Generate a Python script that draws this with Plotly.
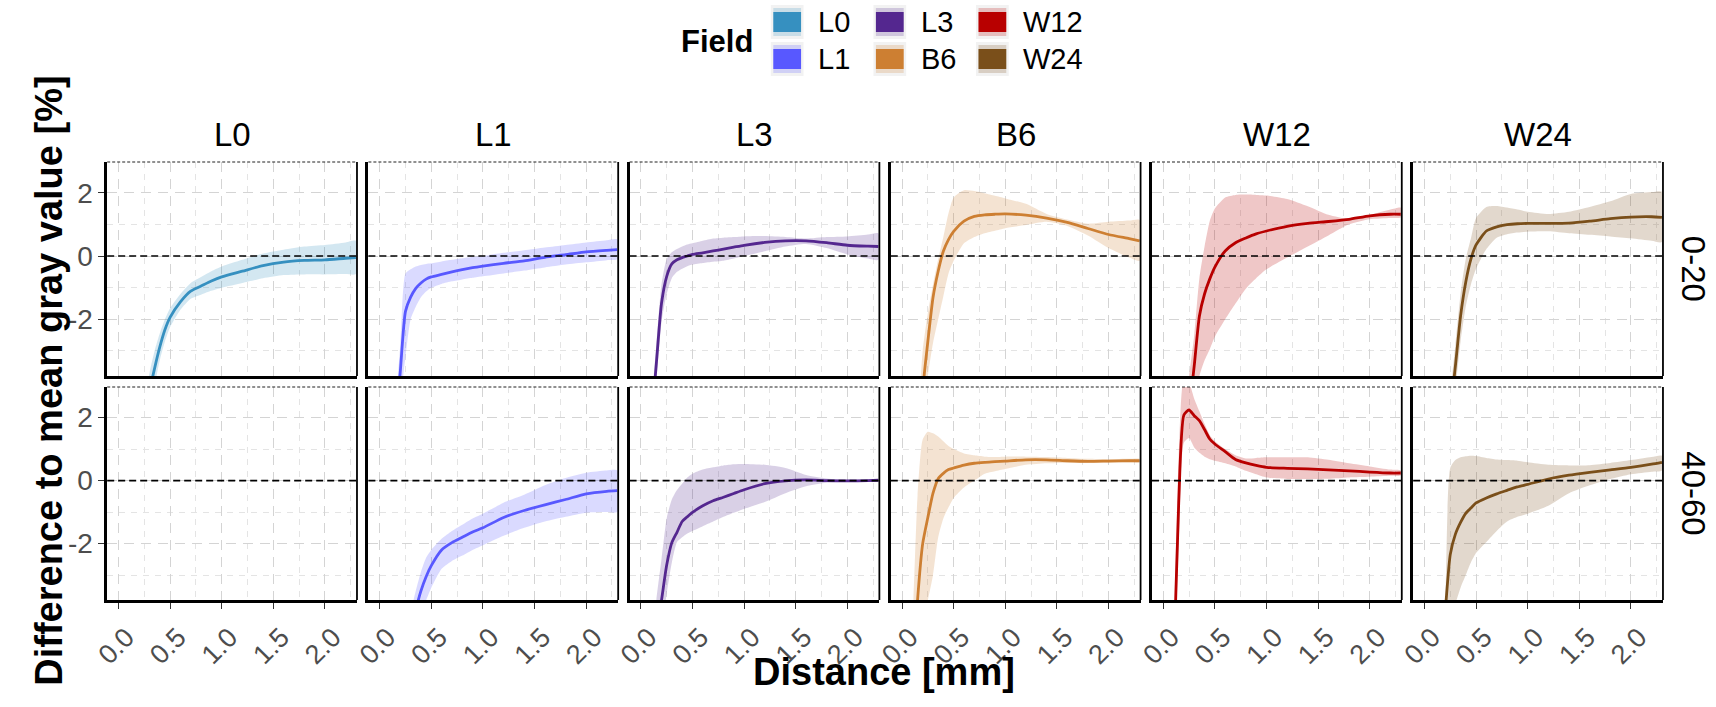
import plotly.graph_objects as go

# ---------------------------------------------------------------------------
# Data: mean difference to mean gray value [%] with lower/upper band,
# sampled along the distance axis [mm]
# ---------------------------------------------------------------------------
distance = [0.0, 0.1, 0.15, 0.2, 0.25, 0.3, 0.35, 0.4, 0.45, 0.5, 0.6, 0.7,
            0.8, 0.9, 1.0, 1.2, 1.4, 1.6, 1.8, 2.0, 2.2, 2.3]

fields = ["L0", "L1", "L3", "B6", "W12", "W24"]
depths = ["0-20", "40-60"]
field_colors = ["#3690C0", "#5858FF", "#54278F", "#CD7F32", "#B80000", "#7A4F1A"]

# depth 0-20
l0_top_mean = [-9, -8, -7.2, -6.3, -5.4, -4.3, -3.55, -2.88, -2.33, -1.94, -1.45, -1.11,
               -0.95, -0.79, -0.66, -0.48, -0.30, -0.19, -0.14, -0.12, -0.07, -0.05]
l0_top_lo = [-9.6, -8.6, -7.8, -6.9, -6.0, -4.9, -4.1, -3.3, -2.7, -2.25, -1.7, -1.35,
             -1.22, -1.1, -1.0, -0.85, -0.7, -0.6, -0.58, -0.58, -0.57, -0.57]
l0_top_hi = [-8.4, -7.4, -6.6, -5.7, -4.8, -3.7, -3.0, -2.45, -2.0, -1.65, -1.2, -0.85,
             -0.66, -0.48, -0.33, -0.12, 0.08, 0.2, 0.3, 0.35, 0.43, 0.48]

l1_top_mean = [-9, -7, -5.5, -3.65, -1.75, -1.3, -1.02, -0.85, -0.73, -0.66, -0.58, -0.5,
               -0.43, -0.37, -0.32, -0.23, -0.15, -0.04, 0.04, 0.13, 0.18, 0.2]
l1_top_lo = [-9.6, -7.6, -6.1, -4.6, -3.2, -2.0, -1.6, -1.3, -1.12, -1.0, -0.88, -0.8,
             -0.74, -0.69, -0.64, -0.55, -0.46, -0.36, -0.27, -0.2, -0.13, -0.1]
l1_top_hi = [-8.4, -6.4, -4.9, -2.8, -0.55, -0.42, -0.33, -0.28, -0.25, -0.23, -0.17, -0.12,
             -0.07, -0.03, 0.0, 0.1, 0.18, 0.27, 0.35, 0.43, 0.5, 0.53]

l3_top_mean = [-8, -5.3, -3.4, -1.5, -0.65, -0.25, -0.12, -0.05, 0.0, 0.05, 0.1, 0.16,
               0.22, 0.28, 0.34, 0.43, 0.48, 0.48, 0.42, 0.34, 0.31, 0.3]
l3_top_lo = [-8.6, -5.9, -4.0, -2.1, -1.2, -0.7, -0.5, -0.4, -0.32, -0.27, -0.22, -0.18,
             -0.15, -0.08, 0.0, 0.15, 0.3, 0.38, 0.25, 0.05, -0.08, -0.12]
l3_top_hi = [-7.4, -4.7, -2.8, -0.9, -0.1, 0.12, 0.22, 0.3, 0.36, 0.4, 0.48, 0.55,
             0.58, 0.6, 0.62, 0.63, 0.6, 0.55, 0.6, 0.62, 0.68, 0.72]

b6_top_mean = [-9, -7.5, -6.0, -4.2, -2.7, -1.31, -0.48, 0.15, 0.52, 0.78, 1.1, 1.25,
               1.3, 1.32, 1.33, 1.29, 1.2, 1.06, 0.87, 0.68, 0.55, 0.48]
b6_top_lo = [-9.6, -8.1, -6.6, -5.6, -3.8, -2.75, -2.0, -1.27, -0.55, -0.15, 0.4, 0.6,
             0.72, 0.8, 0.88, 0.98, 1.08, 0.95, 0.65, 0.25, -0.05, -0.15]
b6_top_hi = [-8.4, -6.9, -5.4, -3.0, -1.8, -0.9, -0.1, 0.6, 1.35, 1.85, 2.08, 2.05,
             1.98, 1.9, 1.82, 1.65, 1.33, 1.15, 1.02, 1.08, 1.12, 1.14]

w12_top_mean = [-9, -8, -7, -6, -4.9, -3.47, -1.9, -1.2, -0.73, -0.35, 0.16, 0.42,
                0.57, 0.7, 0.79, 0.94, 1.03, 1.09, 1.16, 1.27, 1.32, 1.32]
w12_top_lo = [-9.6, -8.6, -7.6, -6.8, -5.9, -5.0, -3.8, -3.3, -2.95, -2.55, -2.0, -1.5,
              -1.03, -0.7, -0.42, -0.05, 0.3, 0.65, 1.0, 1.16, 1.2, 1.22]
w12_top_hi = [-8.4, -7.4, -6.4, -5.0, -3.8, -2.5, -0.7, 0.3, 1.1, 1.5, 1.85, 1.93,
              1.94, 1.93, 1.91, 1.8, 1.57, 1.3, 1.17, 1.3, 1.47, 1.53]

w24_top_mean = [-9, -8, -7, -6, -4.9, -3.47, -1.9, -0.83, -0.1, 0.35, 0.79, 0.92,
                0.99, 1.02, 1.03, 1.03, 1.04, 1.1, 1.18, 1.23, 1.24, 1.22]
w24_top_lo = [-9.6, -8.6, -7.6, -6.6, -5.5, -4.2, -2.7, -1.6, -0.9, -0.4, 0.22, 0.58,
              0.69, 0.74, 0.77, 0.78, 0.72, 0.67, 0.62, 0.56, 0.48, 0.44]
w24_top_hi = [-8.4, -7.4, -6.4, -5.4, -4.3, -2.8, -1.2, -0.1, 0.55, 1.2, 1.55, 1.58,
              1.53, 1.47, 1.4, 1.33, 1.4, 1.55, 1.73, 1.96, 2.02, 2.03]

# depth 40-60 (no L0 measurements)
l1_bot_mean = [-9, -8, -7.2, -6.4, -5.6, -4.8, -4.1, -3.5, -3.05, -2.7, -2.2, -1.97,
               -1.8, -1.63, -1.5, -1.17, -0.95, -0.77, -0.6, -0.42, -0.34, -0.32]
l1_bot_lo = [-9.6, -8.6, -7.8, -7.0, -6.2, -5.4, -4.7, -4.2, -3.8, -3.4, -2.8, -2.55,
             -2.38, -2.2, -2.05, -1.75, -1.5, -1.3, -1.15, -1.02, -1.0, -1.0]
l1_bot_hi = [-8.4, -7.4, -6.6, -5.8, -5.0, -4.2, -3.5, -2.9, -2.45, -2.2, -1.85, -1.6,
             -1.4, -1.2, -1.05, -0.7, -0.45, -0.15, 0.08, 0.25, 0.32, 0.32]

l3_bot_mean = [-9, -6.5, -4.8, -3.8, -2.69, -1.97, -1.64, -1.3, -1.15, -1.01, -0.8, -0.64,
               -0.53, -0.41, -0.29, -0.1, -0.01, 0.02, 0.0, -0.01, 0.0, 0.01]
l3_bot_lo = [-9.6, -7.2, -5.8, -4.8, -3.6, -2.6, -1.95, -1.8, -1.68, -1.6, -1.45, -1.3,
             -1.15, -1.02, -0.9, -0.68, -0.4, -0.18, -0.07, -0.04, -0.03, -0.03]
l3_bot_hi = [-8.4, -5.5, -3.8, -2.5, -1.2, -0.6, -0.3, -0.1, 0.1, 0.22, 0.35, 0.42,
             0.48, 0.52, 0.53, 0.5, 0.4, 0.18, 0.07, 0.03, 0.03, 0.04]

b6_bot_mean = [-9, -6.5, -3.8, -2.0, -1.17, -0.4, 0.06, 0.23, 0.35, 0.4, 0.49, 0.55,
               0.58, 0.6, 0.62, 0.66, 0.66, 0.63, 0.61, 0.62, 0.63, 0.63]
b6_bot_lo = [-9.6, -7.5, -5.5, -4.5, -3.8, -3.0, -1.8, -1.2, -0.85, -0.55, -0.22, 0.0,
             0.22, 0.3, 0.37, 0.5, 0.55, 0.56, 0.56, 0.57, 0.58, 0.58]
b6_bot_hi = [-8.4, -4.5, -0.5, 1.3, 1.55, 1.5, 1.4, 1.25, 1.1, 1.0, 0.86, 0.8,
             0.76, 0.75, 0.76, 0.76, 0.75, 0.72, 0.69, 0.68, 0.69, 0.69]

w12_bot_mean = [-14, -6.0, -0.7, 2.08, 2.24, 2.06, 1.9, 1.62, 1.32, 1.16, 0.92, 0.67,
                0.56, 0.48, 0.42, 0.39, 0.37, 0.34, 0.31, 0.27, 0.24, 0.24]
w12_bot_lo = [-14.6, -7.0, -2.0, 1.2, 1.35, 1.05, 0.88, 0.76, 0.68, 0.63, 0.55, 0.45,
              0.31, 0.2, 0.1, 0.05, 0.05, 0.06, 0.1, 0.12, 0.15, 0.16]
w12_bot_hi = [-13.4, -5.0, 0.8, 3.2, 3.1, 2.6, 2.2, 1.8, 1.45, 1.25, 1.0, 0.8,
              0.7, 0.72, 0.74, 0.74, 0.74, 0.66, 0.55, 0.45, 0.35, 0.32]

w24_bot_mean = [-9, -7, -5.8, -4.2, -2.35, -1.7, -1.33, -1.04, -0.87, -0.71, -0.55, -0.42,
                -0.31, -0.2, -0.12, 0.05, 0.17, 0.26, 0.34, 0.42, 0.52, 0.58]
w24_bot_lo = [-9.6, -8.0, -7.0, -5.7, -4.4, -3.9, -3.4, -3.0, -2.6, -2.3, -1.95, -1.6,
              -1.3, -1.15, -1.05, -0.8, -0.4, -0.15, 0.05, 0.2, 0.28, 0.32]
w24_bot_hi = [-8.4, -7.0, -6.0, -4.0, 0.4, 0.65, 0.74, 0.77, 0.79, 0.78, 0.72, 0.67,
              0.65, 0.63, 0.58, 0.5, 0.48, 0.49, 0.56, 0.65, 0.75, 0.79]

x_ticks = [0.0, 0.5, 1.0, 1.5, 2.0]
x_tick_text = ["0.0", "0.5", "1.0", "1.5", "2.0"]
y_ticks = [-2, 0, 2]
y_tick_text = ["-2", "0", "2"]

# (field, depth) -> (mean, lower, upper)
series = {
    ("L0", "0-20"): (l0_top_mean, l0_top_lo, l0_top_hi),
    ("L1", "0-20"): (l1_top_mean, l1_top_lo, l1_top_hi),
    ("L3", "0-20"): (l3_top_mean, l3_top_lo, l3_top_hi),
    ("B6", "0-20"): (b6_top_mean, b6_top_lo, b6_top_hi),
    ("W12", "0-20"): (w12_top_mean, w12_top_lo, w12_top_hi),
    ("W24", "0-20"): (w24_top_mean, w24_top_lo, w24_top_hi),
    ("L1", "40-60"): (l1_bot_mean, l1_bot_lo, l1_bot_hi),
    ("L3", "40-60"): (l3_bot_mean, l3_bot_lo, l3_bot_hi),
    ("B6", "40-60"): (b6_bot_mean, b6_bot_lo, b6_bot_hi),
    ("W12", "40-60"): (w12_bot_mean, w12_bot_lo, w12_bot_hi),
    ("W24", "40-60"): (w24_bot_mean, w24_bot_lo, w24_bot_hi),
}

# ---------------------------------------------------------------------------
# Layout helpers (pixel -> paper coordinates)
# ---------------------------------------------------------------------------
W, H = 1716, 707
FONT = "Liberation Sans, Arial, Helvetica, sans-serif"
TICK_GREY = "#4D4D4D"


def fx(p):
    return p / W


def fy(p):
    return 1 - p / H


def rgba(hex_color, a):
    h = hex_color.lstrip("#")
    r, g, b = int(h[0:2], 16), int(h[2:4], 16), int(h[4:6], 16)
    return f"rgba({r},{g},{b},{a})"


PANEL_L0, PANEL_W, PANEL_STEP = 93.0, 252.0, 263.5
ROWS = [(162.0, 376.0), (387.0, 600.0)]
X_RANGE = [-0.109, 2.31]
Y_RANGE = [-3.79, 2.97]

fig = go.Figure()
layout_axes = {}
shapes = []
annotations = []

for r, depth in enumerate(depths):
    top_px, bot_px = ROWS[r]
    for c, field in enumerate(fields):
        idx = r * len(fields) + c + 1
        xname = "x" if idx == 1 else f"x{idx}"
        yname = "y" if idx == 1 else f"y{idx}"
        left = PANEL_L0 + c * PANEL_STEP
        bottom_row = r == len(depths) - 1
        first_col = c == 0

        layout_axes["xaxis" if idx == 1 else f"xaxis{idx}"] = dict(
            domain=[fx(left), fx(left + PANEL_W)], anchor=yname, range=X_RANGE,
            showline=True, linecolor="black", linewidth=2.6,
            tickvals=x_ticks, ticktext=x_tick_text,
            ticks="outside" if bottom_row else "", ticklen=6, tickwidth=1.2,
            tickcolor="#333333", showticklabels=bottom_row, tickangle=-45,
            ticklabelshift=8, ticklabelstandoff=2,
            tickfont=dict(family=FONT, size=27, color=TICK_GREY),
            showgrid=True, gridcolor="#D4D4D4", gridwidth=1.4, griddash="10px,7px",
            minor=dict(tickvals=[0.25, 0.75, 1.25, 1.75, 2.25], showgrid=True,
                       gridcolor="#E4E4E4", gridwidth=0.9, griddash="6px,6px"),
            zeroline=False, fixedrange=True,
        )
        layout_axes["yaxis" if idx == 1 else f"yaxis{idx}"] = dict(
            domain=[fy(bot_px), fy(top_px)], anchor=xname, range=Y_RANGE,
            showline=True, linecolor="black", linewidth=2.6,
            tickvals=y_ticks, ticktext=y_tick_text,
            ticks="outside" if first_col else "", ticklen=6, tickwidth=1.2,
            tickcolor="#333333", showticklabels=first_col,
            tickfont=dict(family=FONT, size=28, color=TICK_GREY),
            showgrid=True, gridcolor="#D4D4D4", gridwidth=1.4, griddash="10px,7px",
            minor=dict(tickvals=[-3, -1, 1, 3], showgrid=True,
                       gridcolor="#E4E4E4", gridwidth=0.9, griddash="6px,6px"),
            zeroline=False, fixedrange=True,
        )

        # reference line at zero difference
        shapes.append(dict(type="line", xref=f"{xname} domain", yref=yname,
                           x0=0, x1=1, y0=0, y1=0, layer="above",
                           line=dict(color="black", width=1.7, dash="7px,4px")))
        # remaining panel border: solid right edge, dotted top edge
        shapes.append(dict(type="line", xref=f"{xname} domain", yref=f"{yname} domain",
                           x0=1, x1=1, y0=0, y1=1, layer="above",
                           line=dict(color="black", width=1.8)))
        shapes.append(dict(type="line", xref=f"{xname} domain", yref=f"{yname} domain",
                           x0=0, x1=1, y0=1, y1=1, layer="above",
                           line=dict(color="#222222", width=1.2, dash="3px,2px")))

        key = (field, depth)
        if key in series:
            mean, lo, hi = series[key]
            col = field_colors[c]
            fig.add_trace(go.Scatter(
                x=distance + distance[::-1], y=hi + lo[::-1], xaxis=xname, yaxis=yname,
                mode="lines", fill="toself", fillcolor=rgba(col, 0.22),
                line=dict(width=0, color=rgba(col, 0), shape="spline", smoothing=0.6),
                hoverinfo="skip", showlegend=False))
            fig.add_trace(go.Scatter(
                x=distance, y=mean, xaxis=xname, yaxis=yname, mode="lines",
                line=dict(color=col, width=2.8, shape="spline", smoothing=0.6),
                name=field, showlegend=False))

        # facet strip: field name on top row
        if r == 0:
            annotations.append(dict(text=field, xref="paper", yref="paper",
                                    x=fx(left + PANEL_W / 2), y=fy(134.5),
                                    xanchor="center", yanchor="middle", showarrow=False,
                                    font=dict(family=FONT, size=33, color="black")))
    # facet strip: depth on right side
    annotations.append(dict(text=depth, xref="paper", yref="paper",
                            x=fx(1693), y=fy((top_px + bot_px) / 2), textangle=90,
                            xanchor="center", yanchor="middle", showarrow=False,
                            font=dict(family=FONT, size=33, color="black")))

# axis titles
annotations.append(dict(text="<b>Distance [mm]</b>", xref="paper", yref="paper",
                        x=fx(877), y=fy(672), xanchor="center", yanchor="middle",
                        showarrow=False, font=dict(family=FONT, size=38, color="black")))
annotations.append(dict(text="<b>Difference to mean gray value [%]</b>", xref="paper",
                        yref="paper", x=fx(34), y=fy(381), textangle=-90,
                        xanchor="center", yanchor="middle", showarrow=False,
                        font=dict(family=FONT, size=38, color="black")))

# legend: "Field" with keys arranged in three columns of two
annotations.append(dict(text="<b>Field</b>", xref="paper", yref="paper",
                        x=fx(747), y=fy(41), xanchor="right", yanchor="middle",
                        showarrow=False, font=dict(family=FONT, size=31, color="black")))
key_cols = [779.0, 882.5, 986.0]
key_rows = [22.0, 59.0]
for i, field in enumerate(fields):
    cx, cy = key_cols[i // 2], key_rows[i % 2]
    col = field_colors[i]
    shapes.append(dict(type="rect", xref="paper", yref="paper", layer="above",
                       x0=fx(cx - 16.5), x1=fx(cx + 16.5), y0=fy(cy + 17), y1=fy(cy - 17),
                       fillcolor="#F2F2F2", line=dict(width=0)))
    shapes.append(dict(type="rect", xref="paper", yref="paper", layer="above",
                       x0=fx(cx - 14), x1=fx(cx + 14), y0=fy(cy + 14), y1=fy(cy - 14),
                       fillcolor=rgba(col, 0.22), line=dict(width=0)))
    shapes.append(dict(type="rect", xref="paper", yref="paper", layer="above",
                       x0=fx(cx - 14), x1=fx(cx + 14), y0=fy(cy + 10), y1=fy(cy - 10),
                       fillcolor=col, line=dict(width=0)))
    annotations.append(dict(text=field, xref="paper", yref="paper",
                            x=fx(cx + 29), y=fy(cy), xanchor="left", yanchor="middle",
                            showarrow=False, font=dict(family=FONT, size=29, color="black")))

fig.update_layout(
    width=W, height=H, autosize=False,
    margin=dict(l=0, r=0, t=0, b=0),
    paper_bgcolor="white", plot_bgcolor="white",
    showlegend=False, shapes=shapes, annotations=annotations,
    font=dict(family=FONT),
    **layout_axes,
)

fig.write_html("out.html")
